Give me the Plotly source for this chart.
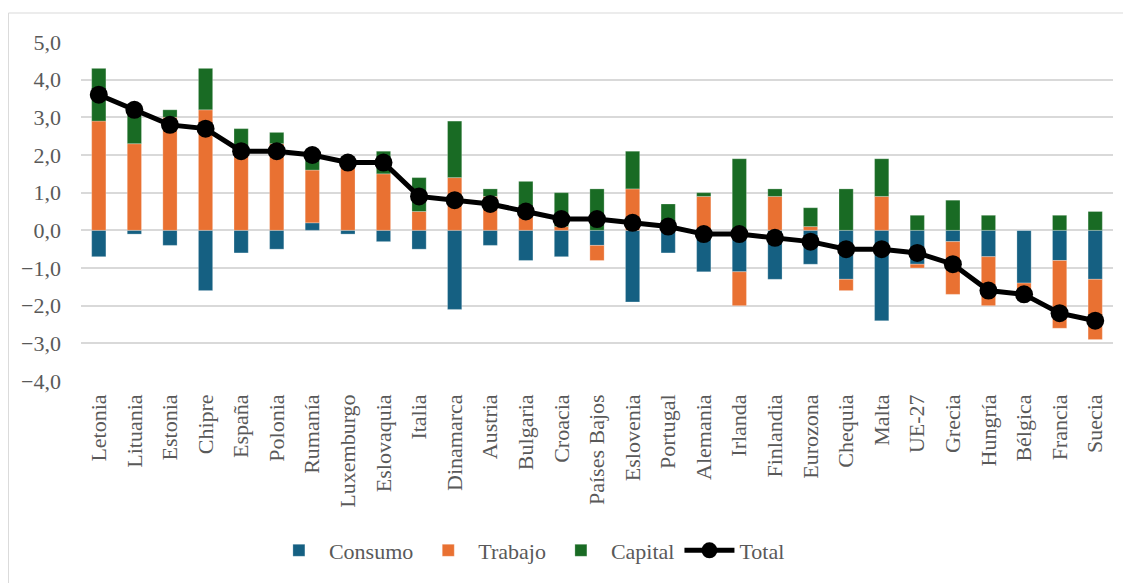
import plotly.graph_objects as go

# Datos (puntos porcentuales)
paises = ['Letonia', 'Lituania', 'Estonia', 'Chipre', 'España', 'Polonia', 'Rumanía',
          'Luxemburgo', 'Eslovaquia', 'Italia', 'Dinamarca', 'Austria', 'Bulgaria',
          'Croacia', 'Países Bajos', 'Eslovenia', 'Portugal', 'Alemania', 'Irlanda',
          'Finlandia', 'Eurozona', 'Chequia', 'Malta', 'UE-27', 'Grecia', 'Hungría',
          'Bélgica', 'Francia', 'Suecia']
consumo = [-0.7, -0.1, -0.4, -1.6, -0.6, -0.5, 0.2, -0.1, -0.3, -0.5, -2.1, -0.4, -0.8,
           -0.7, -0.4, -1.9, -0.6, -1.1, -1.1, -1.3, -0.9, -1.3, -2.4, -0.9, -0.3, -0.7,
           -1.4, -0.8, -1.3]
trabajo = [2.9, 2.3, 3.0, 3.2, 2.2, 2.3, 1.4, 1.9, 1.5, 0.5, 1.4, 0.9, 0.4,
           0.1, -0.4, 1.1, 0.0, 0.9, -0.9, 0.9, 0.1, -0.3, 0.9, -0.1, -1.4, -1.3,
           -0.3, -1.8, -1.6]
capital = [1.4, 1.0, 0.2, 1.1, 0.5, 0.3, 0.4, 0.0, 0.6, 0.9, 1.5, 0.2, 0.9,
           0.9, 1.1, 1.0, 0.7, 0.1, 1.9, 0.2, 0.5, 1.1, 1.0, 0.4, 0.8, 0.4,
           0.0, 0.4, 0.5]
total = [3.6, 3.2, 2.8, 2.7, 2.1, 2.1, 2.0, 1.8, 1.8, 0.9, 0.8, 0.7, 0.5,
         0.3, 0.3, 0.2, 0.1, -0.1, -0.1, -0.2, -0.3, -0.5, -0.5, -0.6, -0.9, -1.6,
         -1.7, -2.2, -2.4]
ticks_y = [5, 4, 3, 2, 1, 0, -1, -2, -3, -4]

COLORS = {
    'consumo': '#156082',
    'trabajo': '#E97132',
    'capital': '#196B24',
    'total': '#000000',
    'grid': '#D9D9D9',
    'text': '#595959',
}
FONT = 'Liberation Serif'

fig = go.Figure()

for nombre, valores, clave in [('Consumo', consumo, 'consumo'),
                               ('Trabajo', trabajo, 'trabajo'),
                               ('Capital', capital, 'capital')]:
    fig.add_trace(go.Bar(
        x=paises,
        y=valores,
        name=nombre,
        marker=dict(color=COLORS[clave], line=dict(color='rgba(255,255,255,0.5)', width=0.5)),
        hovertemplate='<b>%{x}</b><br>' + nombre + ': %{y:.1f}<extra></extra>'
    ))

fig.add_trace(go.Scatter(
    x=paises,
    y=total,
    name='Total',
    mode='lines+markers',
    line=dict(color=COLORS['total'], width=5),
    marker=dict(color=COLORS['total'], size=18),
    hovertemplate='<b>%{x}</b><br>Total: %{y:.1f}<extra></extra>'
))

# el body de la página añade 8px de margen, se descuenta aquí
fig.update_layout(
    barmode='relative',
    bargap=0.6,
    separators=',.',
    width=1131,
    height=583,
    margin=dict(l=73, r=26, t=34, b=210),
    paper_bgcolor='#ffffff',
    plot_bgcolor='#ffffff',
    font=dict(family=FONT, size=22, color=COLORS['text']),
    legend=dict(
        orientation='h',
        x=0.4345, xanchor='center',
        y=-0.50, yanchor='middle',
        font=dict(family=FONT, size=22, color=COLORS['text']),
        itemwidth=50,
        traceorder='normal',
    ),
    shapes=[dict(
        type='rect', xref='paper', yref='paper',
        x0=-0.0703, x1=1.05, y0=-0.7, y1=1.0855,
        line=dict(color=COLORS['grid'], width=1),
        layer='below',
    )],
)

fig.update_xaxes(
    range=[-0.5, len(paises) - 0.5],
    tickangle=-90,
    showgrid=False,
    showline=False,
    ticks='',
    automargin=False,
    ticklabelstandoff=8,
    tickfont=dict(family=FONT, size=22, color=COLORS['text']),
)

fig.update_yaxes(
    range=[-4, 5],
    tickvals=ticks_y,
    tickformat='.1f',
    showgrid=True,
    gridcolor=COLORS['grid'],
    gridwidth=1.5,
    zeroline=True,
    zerolinecolor=COLORS['grid'],
    zerolinewidth=1.5,
    ticks='',
    automargin=False,
    ticklabelstandoff=19,
    tickfont=dict(family=FONT, size=22, color=COLORS['text']),
)

fig.write_html('out.html')
